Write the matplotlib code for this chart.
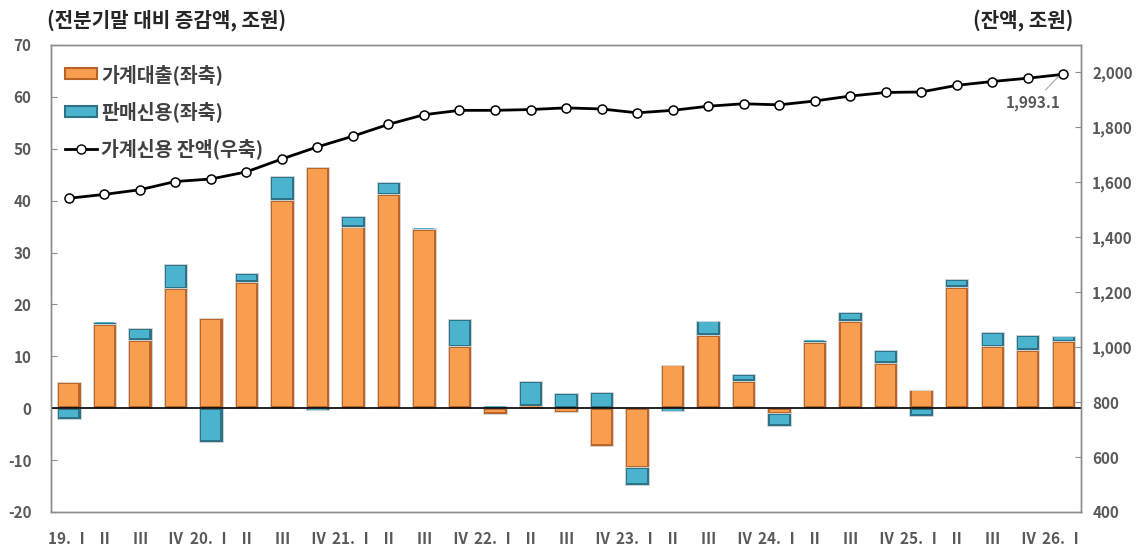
import numpy as np
import matplotlib
matplotlib.use("Agg")
import matplotlib.pyplot as plt
from matplotlib.lines import Line2D
from matplotlib.patches import Patch

plt.rcParams['font.family'] = ['Noto Sans CJK KR', 'DejaVu Sans']
plt.rcParams['axes.unicode_minus'] = False

# quarters 19.I ~ 26.I
quarters = ["19. Ⅰ", "Ⅱ", "Ⅲ", "Ⅳ",
            "20. Ⅰ", "Ⅱ", "Ⅲ", "Ⅳ",
            "21. Ⅰ", "Ⅱ", "Ⅲ", "Ⅳ",
            "22. Ⅰ", "Ⅱ", "Ⅲ", "Ⅳ",
            "23. Ⅰ", "Ⅱ", "Ⅲ", "Ⅳ",
            "24. Ⅰ", "Ⅱ", "Ⅲ", "Ⅳ",
            "25. Ⅰ", "Ⅱ", "Ⅲ", "Ⅳ",
            "26. Ⅰ"]

# 가계대출 change (left axis, 조원)
loans = [5.1, 16.2, 13.2, 23.1,
         17.3, 24.3, 40.1, 46.4,
         35.0, 41.2, 34.5, 11.9,
         -1.1, 0.5, -0.7, -7.2,
         -11.4, 8.4, 14.1, 5.2,
         -1.0, 12.8, 16.8, 8.7,
         3.6, 23.4, 11.9, 11.2,
         12.9]

# 판매신용 change (left axis, 조원)
sales = [-2.0, 0.5, 2.3, 4.6,
         -6.5, 1.8, 4.7, -0.4,
         2.1, 2.3, 0.3, 5.2,
         0.5, 4.7, 2.9, 3.1,
         -3.4, -0.6, 2.8, 1.4,
         -2.4, 0.4, 1.7, 2.5,
         -1.5, 1.5, 2.7, 2.9,
         1.0]

# 가계신용 잔액 (right axis, 조원)
balance = [1542, 1556, 1573, 1603,
           1612, 1638, 1685, 1729,
           1768, 1811, 1846, 1862,
           1862, 1865, 1871, 1867,
           1853, 1862, 1877, 1886,
           1882, 1896, 1914, 1927,
           1929, 1953, 1967, 1979,
           1993.1]

orange = "#F99D4E"
orange_dark = "#B9652A"
teal = "#4BB3CE"
teal_dark = "#2D7388"
gray_txt = "#595959"


def bevel_bars(ax, x, heights, bottoms, w, face, dark):
    # outer dark body + inner lighter face, a rough stand-in for excel's bevel
    heights = np.asarray(heights, dtype=float)
    bottoms = np.asarray(bottoms, dtype=float)
    ax.bar(x, heights, width=w, bottom=bottoms, color=dark, edgecolor="#D9D9D9",
           linewidth=0.6, zorder=2)
    inset = np.minimum(0.35, np.abs(heights) * 0.25)
    sgn = np.sign(heights)
    ax.bar(x, heights - 2 * inset * sgn, width=w * 0.82, bottom=bottoms + inset * sgn,
           color=face, linewidth=0, zorder=3)


x = np.arange(len(quarters))
loans = np.array(loans)
sales = np.array(sales)
# excel-style stacking: same sign stacks on the loan bar, otherwise from zero
sales_bottom = np.where(np.sign(sales) == np.sign(loans), loans, 0)

fig = plt.figure(figsize=(11.47, 5.49), dpi=100)
ax = fig.add_axes([0.0445, 0.0674, 0.8980, 0.8507])
ax2 = ax.twinx()

w = 0.66
bevel_bars(ax, x, loans, np.zeros(len(x)), w, orange, orange_dark)
bevel_bars(ax, x, sales, sales_bottom, w, teal, teal_dark)

ax.axhline(0, color="black", linewidth=1.2, zorder=4)
ax.set_xlim(-0.5, len(quarters) - 0.5)
ax.set_ylim(-20, 70)
ax.set_yticks(range(-20, 71, 10))

ax2.plot(x, balance, color="black", linewidth=2, marker="o", markersize=6.5,
         markerfacecolor="white", markeredgecolor="black", markeredgewidth=1.1, zorder=5)
ax2.set_ylim(400, 2100)
ax2.set_yticks(range(400, 2001, 200))
ax2.set_yticklabels([f"{v:,}" for v in range(400, 2001, 200)])

ax.set_xticks(x)
ax.set_xticklabels(quarters)

for a in (ax, ax2):
    for s in a.spines.values():
        s.set_color("#8C8C8C")
        s.set_linewidth(1)
ax.tick_params(axis="x", length=0, pad=14, labelsize=11, labelcolor=gray_txt)
ax.tick_params(axis="y", direction="in", length=4, pad=14, labelsize=11,
               labelcolor=gray_txt, color="#8C8C8C")
ax2.tick_params(axis="y", direction="in", length=4, pad=8, labelsize=11,
                labelcolor=gray_txt, color="#8C8C8C")
for lab in ax.get_xticklabels() + ax.get_yticklabels() + ax2.get_yticklabels():
    lab.set_fontweight("bold")

ax2.annotate("1,993.1", xy=(x[-1] - 0.15, balance[-1] - 10), xytext=(27.15, 1890),
             ha="center", va="center", fontsize=11, fontweight="bold", color=gray_txt,
             arrowprops=dict(arrowstyle="-", color="#A6A6A6", lw=0.8, shrinkA=2, shrinkB=0))

fig.text(0.041, 0.963, "(전분기말 대비 증감액, 조원)", fontsize=14.5, fontweight="bold",
         color="#262626", ha="left", va="center")
fig.text(0.936, 0.963, "(잔액, 조원)", fontsize=14.5, fontweight="bold",
         color="#262626", ha="right", va="center")

handles = [Patch(facecolor=orange, edgecolor=orange_dark, linewidth=1.5),
           Patch(facecolor=teal, edgecolor=teal_dark, linewidth=1.5),
           Line2D([0], [0], color="black", lw=2, marker="o", markersize=6.5,
                  markerfacecolor="white", markeredgecolor="black")]
labels = ["가계대출(좌축)", "판매신용(좌축)", "가계신용 잔액(우축)"]
leg = ax2.legend(handles, labels, loc="upper left", bbox_to_anchor=(-0.003, 0.997),
                 frameon=False, fontsize=14, handlelength=1.6, handleheight=0.5,
                 labelspacing=0.84, handletextpad=0.25)
for t in leg.get_texts():
    t.set_color("#404040")
    t.set_fontweight("bold")

ax.set_zorder(1)
ax2.set_zorder(2)
ax2.patch.set_visible(False)

fig.savefig("out.png", dpi=100)
